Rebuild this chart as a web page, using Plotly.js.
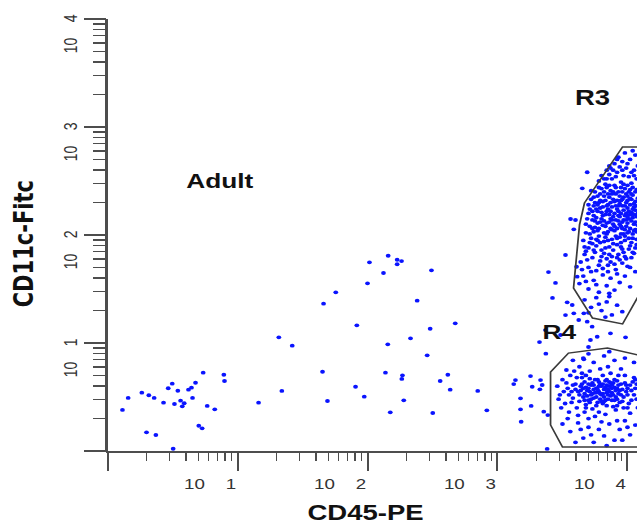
<!DOCTYPE html>
<html><head><meta charset="utf-8">
<script src="https://cdn.plot.ly/plotly-3.0.1.min.js"></script>
<style>
html,body{margin:0;padding:0;background:#fff;overflow:hidden;}
#wrap{width:637px;height:525px;overflow:hidden;position:relative;}
#chart{width:510px;height:525px;transform:scaleX(1.25);transform-origin:0 0;}
</style></head><body><div id="wrap"><div id="chart"></div></div>
<script>
// values are in decades (log10 of fluorescence intensity)
const decades = [0, 1, 2, 3, 4];
const xTickText = ['', '10\u00A0\u00A0\u00A0\u00A01', '10\u00A0\u00A0\u00A0\u00A02', '10\u00A0\u00A0\u00A0\u00A03', '10\u00A0\u00A0\u00A0\u00A04'];
const yTickText = ['', '10\u00A0\u00A0\u00A0\u00A01', '10\u00A0\u00A0\u00A0\u00A02', '10\u00A0\u00A0\u00A0\u00A03', '10\u00A0\u00A0\u00A0\u00A04'];
const xTitle = 'CD45-PE';
const yTitle = 'CD11c-Fitc';

// scattered events [CD45, CD11c]
const sparseEvents = [[2.159,1.808],[2.015,1.747],[2.228,1.771],[2.262,1.759],[2.228,1.729],[2.123,1.648],[2.492,1.673],[2.0,1.553],[1.756,1.469],[1.662,1.364],[2.382,1.392],[1.918,1.164],[2.675,1.182],[2.482,1.132],[1.318,1.053],[1.421,0.975],[2.156,0.988],[2.331,1.043],[2.459,0.886],[0.736,0.725],[0.895,0.706],[0.9,0.648],[1.654,0.734],[2.138,0.725],[2.269,0.701],[2.264,0.667],[2.618,0.706],[2.559,0.648],[0.498,0.623],[0.467,0.581],[0.677,0.632],[0.646,0.586],[1.908,0.595],[0.541,0.558],[0.623,0.568],[0.264,0.540],[0.318,0.516],[0.359,0.491],[0.159,0.491],[0.654,0.491],[1.341,0.556],[2.636,0.568],[2.848,0.556],[0.431,0.447],[0.515,0.435],[0.562,0.466],[0.59,0.442],[0.575,0.414],[0.767,0.417],[0.825,0.386],[1.162,0.447],[1.692,0.463],[1.975,0.503],[2.279,0.469],[0.115,0.380],[2.175,0.358],[2.502,0.352],[2.918,0.377],[0.702,0.234],[0.728,0.210],[0.3,0.173],[0.372,0.148],[0.505,0.021]];

// R3 population (CD45 high, CD11c high)
const r3Events = [[3.93,2.72],[3.98,2.76],[4.02,2.70],[4.06,2.74],[3.90,2.66],[3.96,2.68],[4.04,2.78],[3.87,2.62],
[3.80,2.55],[3.84,2.60],[3.88,2.52],[3.92,2.58],[3.95,2.49],[3.99,2.62],[4.01,2.54],[4.05,2.60],[3.83,2.47],[3.86,2.56],[3.90,2.46],[3.97,2.55],[4.03,2.48],[4.07,2.52],[3.78,2.50],[3.94,2.63],[4.00,2.46],[3.89,2.60],
[3.72,2.33],[3.75,2.40],[3.78,2.30],[3.80,2.43],[3.82,2.36],[3.85,2.28],[3.87,2.41],[3.89,2.33],[3.91,2.38],[3.93,2.27],[3.95,2.44],[3.97,2.35],[3.99,2.30],[4.01,2.40],[4.03,2.33],[4.05,2.26],[4.07,2.42],[3.74,2.27],[3.77,2.36],[3.84,2.44],[3.88,2.26],[3.92,2.32],[3.96,2.40],[4.00,2.36],[4.04,2.44],[4.06,2.31],[3.81,2.31],[3.86,2.35],[3.94,2.29],[3.98,2.43],[4.02,2.28],[3.79,2.38],
[3.68,2.10],[3.70,2.20],[3.73,2.14],[3.75,2.07],[3.77,2.22],[3.79,2.12],[3.81,2.18],[3.83,2.08],[3.85,2.24],[3.87,2.15],[3.89,2.10],[3.90,2.20],[3.92,2.06],[3.94,2.17],[3.96,2.12],[3.97,2.23],[3.99,2.08],[4.01,2.15],[4.03,2.21],[4.05,2.10],[4.07,2.17],[3.71,2.24],[3.74,2.18],[3.78,2.06],[3.82,2.13],[3.86,2.19],[3.88,2.05],[3.91,2.14],[3.93,2.22],[3.95,2.08],[3.98,2.18],[4.00,2.11],[4.02,2.06],[4.04,2.16],[4.06,2.23],[4.08,2.09],[3.76,2.16],[3.80,2.21],[3.84,2.11],[3.93,2.13],[3.99,2.20],[4.05,2.19],[3.87,2.22],[3.69,2.15],
[3.66,1.95],[3.68,2.02],[3.70,1.88],[3.72,1.97],[3.74,2.03],[3.76,1.90],[3.78,1.99],[3.80,1.86],[3.82,1.94],[3.84,2.01],[3.86,1.89],[3.88,1.96],[3.90,2.04],[3.92,1.91],[3.94,1.98],[3.96,1.87],[3.98,1.95],[4.00,2.02],[4.02,1.90],[4.04,1.97],[4.06,1.88],[4.07,2.03],[3.73,1.92],[3.79,1.93],[3.85,1.95],[3.91,1.99],[3.97,2.01],[4.03,1.93],[3.77,2.04],[3.83,1.88],[3.89,1.92],[3.95,1.93],[4.01,1.97],[3.67,1.89],
[3.64,1.75],[3.67,1.82],[3.70,1.70],[3.73,1.79],[3.76,1.67],[3.79,1.76],[3.82,1.83],[3.85,1.72],[3.88,1.80],[3.91,1.68],[3.94,1.77],[3.97,1.84],[4.00,1.71],[4.03,1.79],[4.06,1.66],[3.69,1.77],[3.75,1.84],[3.81,1.69],[3.87,1.75],[3.93,1.82],[3.99,1.78],[4.05,1.83],[3.72,1.66],[3.84,1.78],
[3.63,1.55],[3.66,1.62],[3.70,1.50],[3.74,1.58],[3.78,1.47],[3.81,1.63],[3.84,1.53],[3.87,1.60],[3.90,1.49],[3.94,1.56],[3.98,1.62],[4.02,1.52],[3.68,1.57],[3.76,1.54],[3.86,1.46],[3.92,1.64],
[3.67,1.40],[3.72,1.33],[3.76,1.42],[3.80,1.30],[3.84,1.38],[3.88,1.26],[3.92,1.35],[3.96,1.29],[3.70,1.28],[3.78,1.36],[3.86,1.43],[3.83,1.24],
[3.81,2.26],[3.83,2.19],[3.85,2.03],[3.87,2.30],[3.89,2.17],[3.91,2.27],[3.92,1.97],[3.94,2.36],[3.95,2.01],[3.96,2.27],[3.97,2.14],[3.98,2.05],[3.99,2.38],[4.00,2.25],[4.01,2.03],[4.02,2.19],[4.03,2.38],[4.04,2.01],[4.05,2.29],[4.06,2.12],[4.07,1.96],[4.08,2.34],[3.86,2.12],[3.88,2.38],[3.90,2.08],[3.93,2.18],[3.95,2.32],[3.98,1.99],[4.00,2.17],[4.02,2.42],[4.04,2.24],[4.06,2.05],[3.84,2.27],[3.82,2.02],[3.79,2.25],[3.77,2.11],[3.75,2.30],[3.73,2.06],[3.71,2.01],[3.76,1.96],
[3.70,2.28],[3.72,2.41],[3.74,2.35],[3.76,2.24],[3.78,2.44],[3.80,2.15],[3.82,2.40],[3.84,2.22],[3.86,2.46],[3.88,2.14],[3.90,2.31],[3.91,2.44],[3.93,2.40],[3.95,2.20],[3.96,2.06],[3.97,2.47],[3.99,2.14],[4.00,2.32],[4.01,2.22],[4.03,2.13],[4.04,2.37],[4.05,2.04],[4.07,2.27],[4.08,2.20],[3.85,2.38],[3.87,2.06],[3.89,2.40],[3.92,2.24],[3.94,2.10],[3.96,2.33],[3.98,2.27],[4.02,2.34],[4.06,2.40],[3.83,2.32],[3.81,2.09],[3.79,2.32],[3.77,2.28],[3.75,2.13],[3.73,2.22],[3.71,2.08],
[3.68,1.85],[3.71,1.93],[3.74,1.86],[3.77,1.95],[3.80,1.80],[3.83,1.98],[3.86,1.82],[3.89,1.86],[3.92,1.79],[3.95,1.89],[3.98,1.80],[4.01,1.87],[4.04,1.84],[4.07,1.91],[3.90,1.73],[3.96,1.74],[4.02,1.70],[3.78,1.72],[3.65,1.68],[3.85,1.66],
[3.82,2.52],[3.86,2.64],[3.91,2.54],[3.96,2.60],[4.00,2.66],[4.05,2.55],[4.08,2.64],[3.92,2.70],[3.84,2.52],[4.03,2.58],
[3.690,2.581],[3.652,2.432],[3.562,2.148],[3.600,2.139],[3.587,2.053],[3.523,1.815],[3.608,1.706],[3.613,1.614],[3.536,1.377],[3.575,1.352],[3.523,1.259],[3.587,1.275],[3.625,1.213],[3.664,1.275],[3.728,1.151],[3.690,1.197],[3.392,1.657],[3.446,1.556],[3.423,1.417],[3.369,1.120],[3.485,1.074]];

// R4 population (CD45 high, CD11c low)
const r4Events = [[3.62,0.55],[3.64,0.60],[3.66,0.50],[3.67,0.64],[3.69,0.56],[3.70,0.47],[3.72,0.61],[3.73,0.53],[3.75,0.66],[3.76,0.58],[3.77,0.45],[3.79,0.62],[3.80,0.52],[3.82,0.57],[3.83,0.65],[3.85,0.48],[3.86,0.60],[3.88,0.54],[3.89,0.63],[3.91,0.50],[3.92,0.58],[3.94,0.45],[3.95,0.62],[3.63,0.46],[3.65,0.68],[3.68,0.43],[3.71,0.67],[3.74,0.49],[3.78,0.55],[3.81,0.44],[3.84,0.61],[3.87,0.51],[3.90,0.66],[3.93,0.53],[3.66,0.58],[3.70,0.62],[3.74,0.57],[3.78,0.64],[3.82,0.50],[3.86,0.55],[3.90,0.59],[3.72,0.52],[3.76,0.50],[3.80,0.60],[3.84,0.54],[3.88,0.47],[3.69,0.51],[3.75,0.54],[3.79,0.48],[3.83,0.59],
[3.46,0.60],[3.48,0.52],[3.50,0.66],[3.52,0.44],[3.54,0.58],[3.56,0.70],[3.58,0.49],[3.60,0.62],[3.49,0.40],[3.55,0.36],[3.59,0.74],[3.63,0.78],[3.67,0.36],[3.71,0.74],[3.75,0.32],[3.79,0.76],[3.83,0.34],[3.87,0.72],[3.91,0.38],[3.95,0.76],[3.97,0.50],[3.99,0.61],[4.01,0.44],[4.03,0.56],[4.05,0.68],[4.07,0.48],[3.98,0.70],[4.02,0.35],[4.06,0.58],[3.97,0.40],[3.53,0.75],[3.61,0.40],[3.65,0.72],[3.73,0.39],[3.81,0.70],[3.89,0.41],[3.93,0.70],[4.00,0.52],[4.04,0.64],[4.08,0.40],[3.57,0.55],[3.47,0.48],[3.62,0.33],[3.70,0.30],[3.85,0.78],[3.78,0.36],
[3.50,0.25],[3.56,0.18],[3.62,0.26],[3.66,0.12],[3.70,0.22],[3.74,0.08],[3.78,0.20],[3.82,0.14],[3.86,0.25],[3.90,0.10],[3.94,0.20],[3.98,0.28],[4.02,0.15],[4.06,0.24],[3.60,0.08],[3.72,0.15],[3.84,0.05],[3.96,0.10],[3.58,0.84],[3.66,0.86],[3.74,0.82],[3.82,0.88],[3.90,0.84],[3.98,0.86],[4.05,0.82],[3.70,0.90],[3.86,0.92],[3.54,0.30],[3.64,0.20],[3.80,0.27],[3.92,0.28],[4.00,0.22],
[3.63,0.52],[3.65,0.62],[3.68,0.59],[3.71,0.55],[3.73,0.63],[3.76,0.54],[3.78,0.60],[3.81,0.53],[3.83,0.47],[3.85,0.57],[3.87,0.63],[3.89,0.52],[3.91,0.56],[3.93,0.61],[3.95,0.52],[3.67,0.47],[3.71,0.45],[3.77,0.66],[3.80,0.46],[3.84,0.66],[3.88,0.58],[3.92,0.48],[3.96,0.57],[3.60,0.57],[3.58,0.61],[3.55,0.52],[3.99,0.55],[4.02,0.61],[4.05,0.52],[4.07,0.62],
[3.64,0.56],[3.67,0.53],[3.70,0.58],[3.72,0.48],[3.74,0.61],[3.77,0.57],[3.79,0.53],[3.81,0.62],[3.82,0.46],[3.85,0.52],[3.86,0.64],[3.88,0.61],[3.90,0.47],[3.92,0.65],[3.94,0.56],[3.96,0.46],[3.98,0.63],[4.00,0.58],[4.03,0.47],[4.06,0.66],[3.57,0.45],[3.53,0.63],[3.51,0.55],[3.61,0.68],[3.68,0.70],[3.76,0.42],[3.84,0.42],[3.92,0.42],[4.00,0.40],[3.68,0.40],
[3.323,1.009],[3.372,0.901],[3.138,0.657],[3.125,0.620],[3.177,0.488],[3.177,0.386],[3.182,0.271],[3.254,0.694],[3.267,0.595],[3.331,0.657],[3.344,0.611],[3.326,0.571],[3.356,0.364],[3.387,0.333],[3.259,0.417],[3.382,0.019],[3.715,1.028],[3.700,0.963],[3.767,1.058],[3.985,1.053],[3.664,0.849],[3.869,1.090]];

// gate outlines (vertices, decades)
const r3GateX = [4.18, 3.962, 3.669, 3.631, 3.585, 3.731, 3.962, 4.18];
const r3GateY = [2.815, 2.815, 2.296, 2.093, 1.509, 1.231, 1.176, 1.64];
const r4GateX = [4.18, 3.846, 3.546, 3.408, 3.408, 3.500, 4.18];
const r4GateY = [0.861, 0.954, 0.907, 0.731, 0.241, 0.037, 0.037];

const minorVals = [];
decades.forEach(d => { for (let k = 2; k <= 9; k++) minorVals.push(d + Math.log10(k)); });

const axisColor = '#4d4d4d';
const dotColor = '#0a14ff';
function ev(arr, i) { return arr.map(p => p[i]); }

const traces = [
  {type:'scatter', mode:'markers', x:ev(sparseEvents,0), y:ev(sparseEvents,1), marker:{color:dotColor, size:3.8}, hoverinfo:'skip', showlegend:false},
  {type:'scatter', mode:'markers', x:ev(r3Events,0), y:ev(r3Events,1), marker:{color:dotColor, size:3.8}, hoverinfo:'skip', showlegend:false},
  {type:'scatter', mode:'markers', x:ev(r4Events,0), y:ev(r4Events,1), marker:{color:dotColor, size:3.8}, hoverinfo:'skip', showlegend:false},
  {type:'scatter', mode:'lines', x:r3GateX, y:r3GateY, line:{color:'#3a3a3a', width:1.4}, hoverinfo:'skip', showlegend:false},
  {type:'scatter', mode:'lines', x:r4GateX, y:r4GateY, line:{color:'#3a3a3a', width:1.4}, hoverinfo:'skip', showlegend:false}
];

const tickFont = {family:'Liberation Sans, Arial, sans-serif', size:15, color:'#333'};
const layout = {
  width:510, height:525,
  margin:{l:86, r:0, t:19, b:74, pad:0},
  paper_bgcolor:'#fff', plot_bgcolor:'#fff',
  showlegend:false,
  xaxis:{
    range:[0, 4.077], showgrid:false, zeroline:false, automargin:false, fixedrange:true,
    showline:true, linecolor:axisColor, linewidth:1.6,
    tickmode:'array', tickvals:decades, ticktext:xTickText,
    ticks:'outside', ticklen:18, tickwidth:1.6, tickcolor:axisColor,
    ticklabelshift:-22, tickfont:tickFont,
    minor:{tickmode:'array', tickvals:minorVals, ticks:'outside', ticklen:8, tickwidth:1.2, tickcolor:axisColor, showgrid:false}
  },
  yaxis:{
    range:[0, 4], showgrid:false, zeroline:false, automargin:false, fixedrange:true,
    showline:true, linecolor:axisColor, linewidth:1.6,
    tickmode:'array', tickvals:decades, ticktext:yTickText, tickangle:-90,
    ticks:'outside', ticklen:17, tickwidth:1.6, tickcolor:axisColor,
    ticklabelshift:17, tickfont:{family:'Liberation Sans, Arial, sans-serif', size:14, color:'#333'},
    minor:{tickmode:'array', tickvals:minorVals, ticks:'outside', ticklen:10, tickwidth:1.2, tickcolor:axisColor, showgrid:false}
  },
  annotations:[
    {text:xTitle, x:0.486, y:-0.142, xref:'paper', yref:'paper', xanchor:'center', yanchor:'middle', showarrow:false, borderpad:0, font:{family:'Liberation Sans, Arial, sans-serif', size:22, weight:700, color:'#111'}},
    {text:yTitle, x:-0.1575, y:0.479, xref:'paper', yref:'paper', xanchor:'center', yanchor:'middle', textangle:-90, showarrow:false, font:{family:'DejaVu Sans, sans-serif', size:21, weight:700, color:'#111'}},
    {text:'Adult', x:0.862, y:2.509, xref:'x', yref:'y', showarrow:false, font:{family:'Liberation Sans, Arial, sans-serif', size:21, weight:700, color:'#111'}},
    {text:'R3', x:3.735, y:3.269, xref:'x', yref:'y', showarrow:false, font:{family:'Liberation Sans, Arial, sans-serif', size:22, weight:700, color:'#111'}},
    {text:'R4', x:3.477, y:1.106, xref:'x', yref:'y', showarrow:false, font:{family:'Liberation Sans, Arial, sans-serif', size:21, weight:700, color:'#111'}}
  ]
};

Plotly.newPlot('chart', traces, layout, {displayModeBar:false, staticPlot:true});
</script>
</body></html>
